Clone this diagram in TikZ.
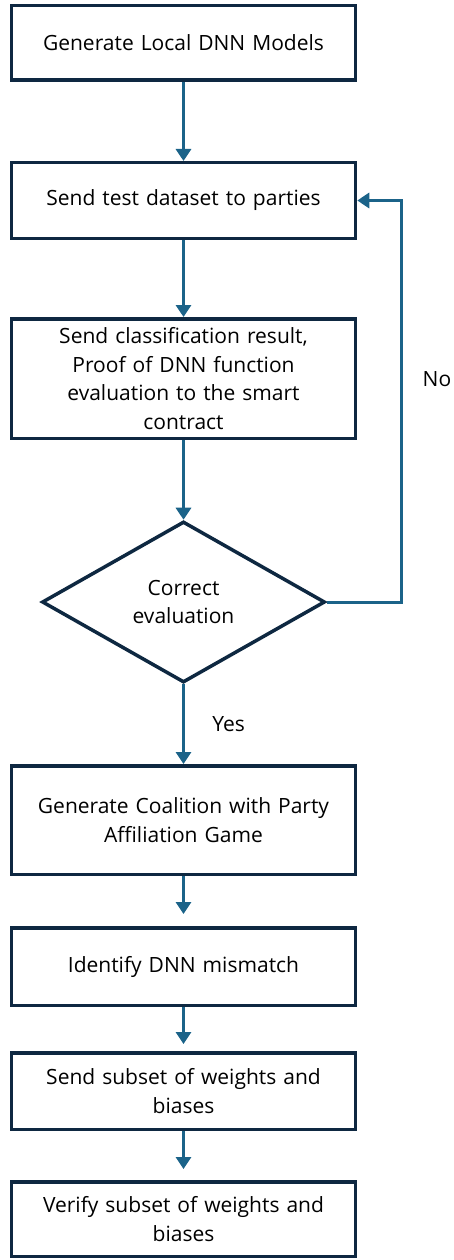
\documentclass[tikz,border=0pt]{standalone}
\usepackage{fontspec}
\setmainfont{Open Sans}
\usepackage{xcolor}
\usetikzlibrary{arrows.meta, shapes.geometric, positioning, calc}
\definecolor{boxline}{HTML}{0E2841}
\definecolor{flowline}{HTML}{1B6389}

\begin{document}
\begin{tikzpicture}[x=1pt, y=-1pt,
    stepbox/.style={draw=boxline, line width=3.5pt, fill=white, minimum width=344pt,
        inner sep=0pt, align=center, text width=330pt, font=\fontsize{21}{28.5}\selectfont},
    decision/.style={diamond, draw=boxline, line width=3.5pt, minimum width=283pt,
        minimum height=161pt, aspect=1.76, inner sep=0pt, align=center,
        font=\fontsize{21}{28.5}\selectfont},
    flow/.style={draw=flowline, line width=3pt, -{Triangle[width=15pt,length=12pt]}},
    tag/.style={font=\fontsize{21}{28.5}\selectfont}]
    \useasboundingbox (0,0) rectangle (453,1260);

    % Passi iniziali
    \node[stepbox, minimum height=74.5pt] (gen) at (183.5,43) {Generate Local DNN Models};
    \node[stepbox, minimum height=75.5pt] (send) at (183.5,200.5) {Send test dataset to parties};
    \node[stepbox, minimum height=119.5pt] (proof) at (183.5,378.5) {Send classification result,\\Proof of DNN function\\evaluation to the smart\\contract};

    % Decisione
    \node[decision] (dec) at (183.5,602) {Correct\\evaluation};

    % Passi finali
    \node[stepbox, minimum height=108.5pt] (coal) at (183.5,820) {Generate Coalition with Party\\Affiliation Game};
    \node[stepbox, minimum height=77.5pt] (mis) at (183.5,966.5) {Identify DNN mismatch};
    \node[stepbox, minimum height=76.5pt] (sub) at (183.5,1091) {Send subset of weights and\\biases};
    \node[stepbox, minimum height=74.5pt] (ver) at (183.5,1219) {Verify subset of weights and\\biases};

    % Frecce
    \draw[flow] (gen) -- (send);
    \draw[flow] (send) -- (proof);
    \draw[flow] (proof) -- (dec);
    \draw[flow] (dec) -- node[midway, right=24pt, tag] {Yes} (coal);
    \draw[flow, shorten >=12pt] (coal) -- (mis);
    \draw[flow, shorten >=7pt] (mis) -- (sub);
    \draw[flow, shorten >=11pt] (sub) -- (ver);

    % Ritorno
    \draw[flow] (dec.east) -- ++(75,0) |- (send.east);
    \node[tag] (no) at (437,379) {No};

\end{tikzpicture}
\end{document}
